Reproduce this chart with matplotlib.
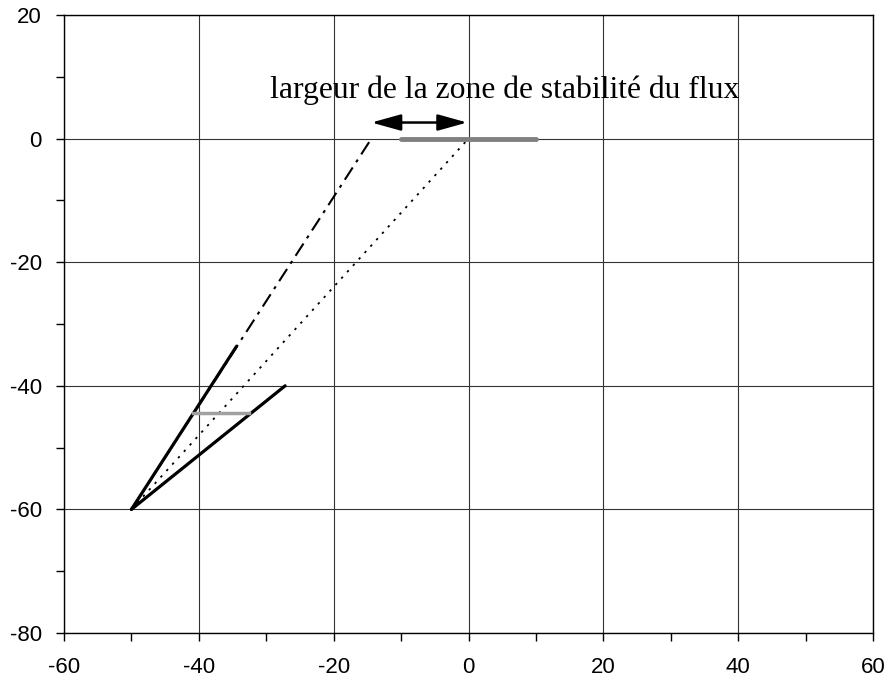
import matplotlib
matplotlib.use('Agg')
import matplotlib.pyplot as plt
from matplotlib.ticker import MultipleLocator

plt.rcParams['axes.unicode_minus'] = False

# données
seg1_x = [-50, -34.4]
seg1_y = [-60, -33.6]
seg2_x = [-50, -27.2]
seg2_y = [-60, -40]
gris_court_x = [-40.9, -32.6]
gris_court_y = [-44.4, -44.4]
tiret_point_x = [-50, -14.4]
tiret_point_y = [-60, 0]
pointille_x = [-50, 0]
pointille_y = [-60, 0]
zone_x = [-10, 10]
zone_y = [0, 0]
fleche_x = [-14.4, -0.2]
fleche_y = 2.6
texte = 'largeur de la zone de stabilité du flux'

fig = plt.figure(figsize=(8.89, 6.82), dpi=100)
ax = fig.add_axes([64 / 889, 1 - 633 / 682, (873 - 64) / 889, (633 - 15) / 682])

ax.set_xlim(-60, 60)
ax.set_ylim(-80, 20)
ax.xaxis.set_major_locator(MultipleLocator(20))
ax.xaxis.set_minor_locator(MultipleLocator(10))
ax.yaxis.set_major_locator(MultipleLocator(20))
ax.yaxis.set_minor_locator(MultipleLocator(10))
ax.grid(which='major', color='#333333', linewidth=0.8)
ax.set_axisbelow(True)
for s in ax.spines.values():
    s.set_linewidth(1.0)
ax.tick_params(which='both', direction='out', length=6, width=1.0, labelsize=16)
ax.tick_params(axis='y', pad=10)
ax.tick_params(axis='x', pad=11)
for lab in ax.get_xticklabels() + ax.get_yticklabels():
    lab.set_family('Liberation Sans')

ax.plot(tiret_point_x, tiret_point_y, color='black', lw=1.5, dashes=[7, 3, 1.5, 3])
ax.plot(pointille_x, pointille_y, color='black', lw=1.3, dashes=[1.3, 3.5])
ax.plot(seg1_x, seg1_y, color='black', lw=2.3, solid_capstyle='round')
ax.plot(seg2_x, seg2_y, color='black', lw=2.3, solid_capstyle='round')
ax.plot(gris_court_x, gris_court_y, color='#a0a0a0', lw=2.5)
ax.plot(zone_x, zone_y, color='#808080', lw=3.5, solid_capstyle='round')

ax.annotate('', xy=(fleche_x[0], fleche_y), xytext=(fleche_x[1], fleche_y),
            arrowprops=dict(arrowstyle='<|-|>,head_length=1.8,head_width=0.5',
                            color='black', lw=1.8, shrinkA=0, shrinkB=0))
ax.text(5.4, 7.9, texte, ha='center', va='center', fontsize=22.8,
        family='Liberation Serif')

fig.savefig('out.png', dpi=100)
